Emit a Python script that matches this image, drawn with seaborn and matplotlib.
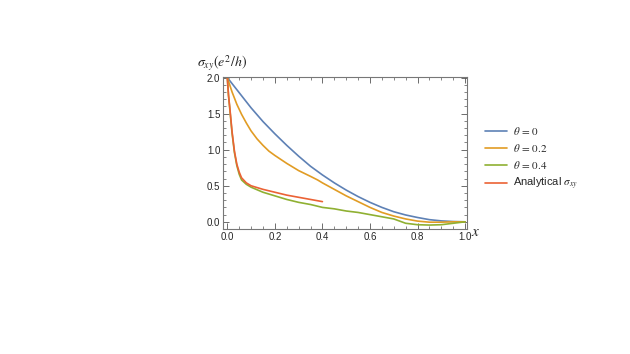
import numpy as np
import pandas as pd
import matplotlib
matplotlib.use("Agg")
import matplotlib.pyplot as plt
from matplotlib.ticker import MultipleLocator
import seaborn as sns

# values
x_blue = [0.0, 0.05, 0.1, 0.15, 0.2, 0.25, 0.3, 0.35, 0.4, 0.45, 0.5, 0.55, 0.6, 0.65, 0.7, 0.75, 0.8, 0.85, 0.9, 0.95, 1.0]
y_blue = [2.0, 1.79, 1.58, 1.39, 1.22, 1.06, 0.91, 0.77, 0.65, 0.54, 0.44, 0.35, 0.27, 0.2, 0.14, 0.095, 0.06, 0.03, 0.013, 0.004, 0.0]

x_orange = [0.0, 0.02, 0.04, 0.06, 0.08, 0.1, 0.125, 0.15, 0.175, 0.2, 0.25, 0.3, 0.35, 0.38, 0.4, 0.45, 0.5, 0.55, 0.6, 0.65, 0.7, 0.75, 0.8, 0.85, 0.9, 0.95, 1.0]
y_orange = [2.0, 1.8, 1.63, 1.49, 1.37, 1.26, 1.15, 1.06, 0.98, 0.92, 0.81, 0.71, 0.63, 0.58, 0.54, 0.45, 0.36, 0.28, 0.2, 0.13, 0.08, 0.04, 0.01, -0.005, -0.005, 0.0, 0.0]

x_green = [0.0, 0.005, 0.01, 0.02, 0.03, 0.04, 0.05, 0.06, 0.08, 0.1, 0.15, 0.2, 0.25, 0.3, 0.35, 0.4, 0.45, 0.5, 0.55, 0.6, 0.65, 0.7, 0.75, 0.8, 0.85, 0.9, 0.95, 1.0]
y_green = [2.0, 1.75, 1.58, 1.23, 0.96, 0.78, 0.66, 0.58, 0.52, 0.48, 0.41, 0.36, 0.31, 0.27, 0.24, 0.2, 0.18, 0.15, 0.13, 0.1, 0.07, 0.04, -0.02, -0.04, -0.045, -0.04, -0.02, 0.0]

x_red = [0.0, 0.005, 0.01, 0.02, 0.03, 0.04, 0.05, 0.06, 0.08, 0.1, 0.15, 0.2, 0.25, 0.3, 0.35, 0.4]
y_red = [2.0, 1.76, 1.6, 1.25, 0.98, 0.8, 0.69, 0.61, 0.54, 0.5, 0.45, 0.41, 0.37, 0.34, 0.31, 0.28]

labels = [r"$\theta\,=\,0$", r"$\theta\,=\,0.2$", r"$\theta\,=\,0.4$", r"Analytical $\sigma_{xy}$"]
colors = ["#5E81B5", "#E19C24", "#8FB032", "#EB6235"]

frames = []
for lab, xs, ys in zip(labels, [x_blue, x_orange, x_green, x_red], [y_blue, y_orange, y_green, y_red]):
    frames.append(pd.DataFrame({"x": xs, "y": ys, "curve": lab}))
df = pd.concat(frames, ignore_index=True)

sns.set_style("ticks")
plt.rcParams["font.family"] = ["Liberation Sans", "DejaVu Sans"]
plt.rcParams["mathtext.fontset"] = "stix"

fig = plt.figure(figsize=(6.3, 3.54), dpi=100)
ax = fig.add_axes([0.354, 0.353, 0.388, 0.429])

sns.lineplot(data=df, x="x", y="y", hue="curve", palette=colors, estimator=None,
             sort=False, linewidth=1.2, ax=ax)

ax.set_xlim(-0.018, 1.01)
ax.set_ylim(-0.1, 2.005)
ax.xaxis.set_major_locator(MultipleLocator(0.2))
ax.xaxis.set_minor_locator(MultipleLocator(0.05))
ax.yaxis.set_major_locator(MultipleLocator(0.5))
ax.yaxis.set_minor_locator(MultipleLocator(0.1))
ax.xaxis.set_major_formatter(plt.FormatStrFormatter("%.1f"))
ax.yaxis.set_major_formatter(plt.FormatStrFormatter("%.1f"))
ax.tick_params(which="both", direction="in", top=True, right=True, color="#555555", labelsize=7, pad=2)
ax.tick_params(which="major", length=4, width=0.6)
ax.tick_params(which="minor", length=2, width=0.5)
for s in ax.spines.values():
    s.set_color("#777777")
    s.set_linewidth(0.8)

ax.set_xlabel("")
ax.set_ylabel("")
fig.text(0.353, 0.794, r"$\sigma_{xy}(e^2/h)$", fontsize=10, ha="center", va="bottom")
fig.text(0.748, 0.345, r"$x$", fontsize=11, ha="left", va="center")

handles, _ = ax.get_legend_handles_labels()
ax.legend(handles, labels, loc="upper left", bbox_to_anchor=(0.762, 0.66), bbox_transform=fig.transFigure,
          frameon=False, fontsize=8, handlelength=2.0, labelspacing=0.45, borderaxespad=0, handletextpad=0.6)

fig.savefig("out.png", dpi=100)
